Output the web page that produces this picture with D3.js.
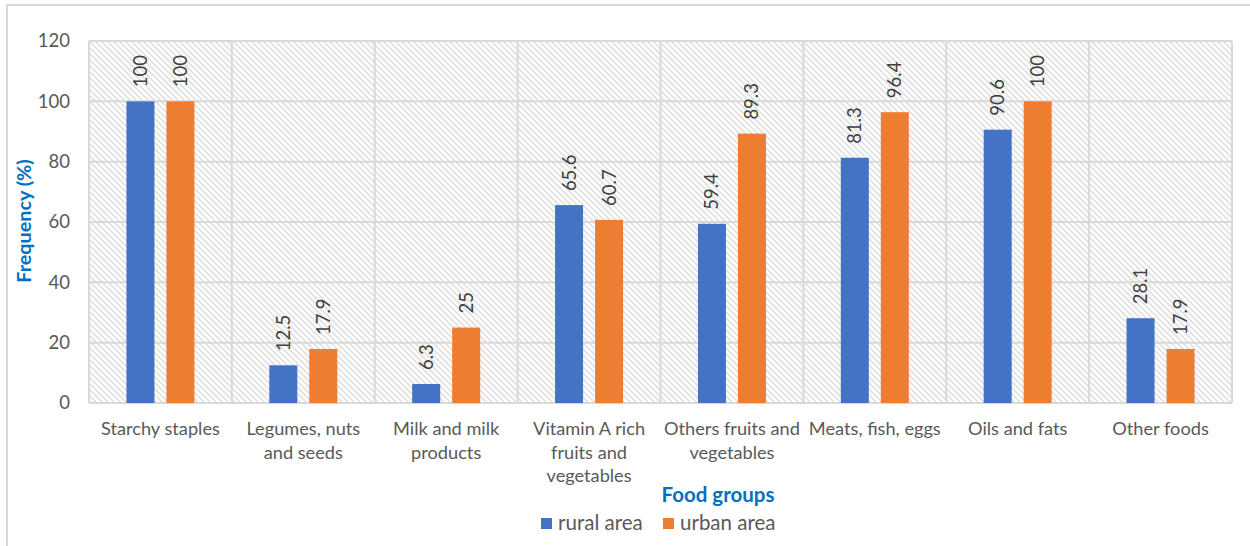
<!DOCTYPE html>
<html>
<head>
<meta charset="utf-8">
<script src="https://cdn.jsdelivr.net/npm/d3@7"></script>
<style>
  html, body { margin: 0; padding: 0; background: #fff; }
  svg { display: block; font-family: Lato, "Open Sans", sans-serif; }
</style>
</head>
<body>
<svg id="chart" width="1250" height="546"></svg>
<script>
// Food group consumption frequency by area
const categories = [
  "Starchy staples",
  "Legumes, nuts\nand seeds",
  "Milk and milk\nproducts",
  "Vitamin A rich\nfruits and\nvegetables",
  "Others fruits and\nvegetables",
  "Meats, fish, eggs",
  "Oils and fats",
  "Other foods"
];
const seriesNames = ["rural area", "urban area"];
const rural = [100, 12.5, 6.3, 65.6, 59.4, 81.3, 90.6, 28.1];
const urban = [100, 17.9, 25, 60.7, 89.3, 96.4, 100, 17.9];
const seriesColors = ["#4472C4", "#ED7D31"];
const yTicks = [0, 20, 40, 60, 80, 100, 120];

const svg = d3.select("#chart");
const plot = { left: 89, right: 1232, top: 41, bottom: 403 };

// outer chart frame
svg.append("rect")
  .attr("x", 7).attr("y", 5)
  .attr("width", 1300).attr("height", 600)
  .attr("fill", "none").attr("stroke", "#d9d9d9").attr("stroke-width", 2);

// hatched plot background
const defs = svg.append("defs");
const P = 6;
const pat = defs.append("pattern")
  .attr("id", "hatch")
  .attr("patternUnits", "userSpaceOnUse")
  .attr("width", P).attr("height", P);
pat.append("rect").attr("width", P).attr("height", P).attr("fill", "#fff");
pat.append("path")
  .attr("d", `M-1,-1 L${P + 1},${P + 1} M-1,${P - 1} L1,${P + 1} M${P - 1},-1 L${P + 1},1`)
  .attr("stroke", "#e2e2e2").attr("stroke-width", 1.8);

const x0 = d3.scaleBand().domain(d3.range(categories.length))
  .range([plot.left, plot.right]).padding(0);
const cw = x0.bandwidth();
const x1 = d3.scaleBand().domain(seriesNames)
  .range([cw / 2 - 34, cw / 2 + 34]).paddingInner(0.3).paddingOuter(0);
const y = d3.scaleLinear().domain([0, 120]).range([plot.bottom, plot.top]);

svg.append("rect")
  .attr("x", plot.left).attr("y", plot.top)
  .attr("width", plot.right - plot.left).attr("height", plot.bottom - plot.top)
  .attr("fill", "url(#hatch)");

// gridlines
const grid = svg.append("g").attr("stroke", "#d9d9d9").attr("stroke-width", 2);
grid.selectAll("line.h").data(yTicks).join("line")
  .attr("x1", plot.left).attr("x2", plot.right)
  .attr("y1", d => y(d)).attr("y2", d => y(d));
grid.selectAll("line.v").data(d3.range(categories.length + 1)).join("line")
  .attr("x1", i => plot.left + i * cw).attr("x2", i => plot.left + i * cw)
  .attr("y1", plot.top).attr("y2", plot.bottom);

// y axis labels
const yAxis = d3.axisLeft(y).tickValues(yTicks).tickSize(0).tickPadding(19);
const gy = svg.append("g").attr("transform", `translate(${plot.left},0)`).call(yAxis);
gy.select(".domain").remove();
gy.selectAll("text").attr("font-size", 18.5).attr("fill", "#595959")
  .attr("font-family", "Lato, sans-serif");

// bars and value labels
const series = [rural, urban];
series.forEach((vals, si) => {
  const g = svg.append("g");
  g.selectAll("rect").data(vals).join("rect")
    .attr("x", (d, i) => x0(i) + x1(seriesNames[si]))
    .attr("width", x1.bandwidth())
    .attr("y", d => y(d))
    .attr("height", d => y(0) - y(d))
    .attr("fill", seriesColors[si]);
  g.selectAll("text").data(vals).join("text")
    .attr("transform", (d, i) => {
      const cx = x0(i) + x1(seriesNames[si]) + x1.bandwidth() / 2;
      return `translate(${cx},${y(d) - 14}) rotate(-90)`;
    })
    .attr("dy", "0.35em")
    .attr("text-anchor", "start")
    .attr("font-size", 18.5)
    .attr("fill", "#404040")
    .text(d => d);
});

// category labels
const cat = svg.append("g");
categories.forEach((c, i) => {
  const t = cat.append("text")
    .attr("x", x0(i) + cw / 2)
    .attr("y", 435)
    .attr("text-anchor", "middle")
    .attr("font-size", 18.2)
    .attr("fill", "#595959");
  c.split("\n").forEach((line, li) => {
    t.append("tspan").attr("x", x0(i) + cw / 2).attr("dy", li === 0 ? 0 : 23.5).text(line);
  });
});

// axis titles
svg.append("text")
  .attr("transform", "translate(31,221) rotate(-90)")
  .attr("text-anchor", "middle")
  .attr("font-size", 19.8).attr("font-weight", "bold").attr("fill", "#0070C0")
  .text("Frequency (%)");
svg.append("text")
  .attr("x", 718).attr("y", 502)
  .attr("text-anchor", "middle")
  .attr("font-size", 20.5).attr("font-weight", "bold").attr("fill", "#0070C0")
  .text("Food groups");

// legend
const legendX = [541, 663];
const lg = svg.append("g");
seriesNames.forEach((s, i) => {
  lg.append("rect").attr("x", legendX[i]).attr("y", 518)
    .attr("width", 11).attr("height", 11).attr("fill", seriesColors[i]);
  lg.append("text").attr("x", legendX[i] + 17).attr("y", 530)
    .attr("font-size", 20.5).attr("fill", "#595959").text(s);
});
</script>
</body>
</html>
